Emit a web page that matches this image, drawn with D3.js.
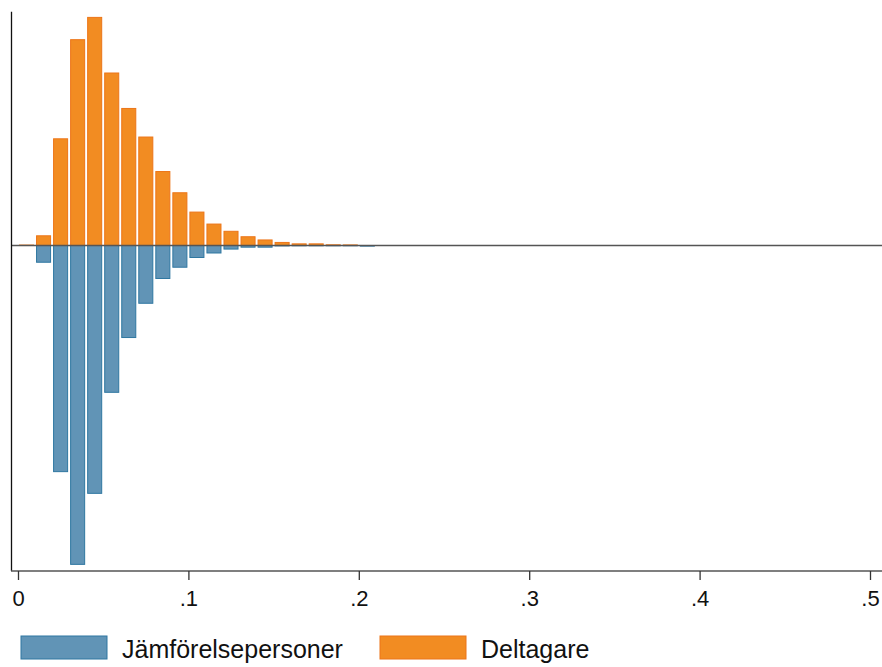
<!DOCTYPE html>
<html lang="sv">
<head>
    <meta charset="UTF-8">
    <title>Jämförelsepersoner och deltagare</title>
    <script src="https://d3js.org/d3.v7.min.js"></script>
    <style>
        body { margin: 0; background: #fff; }
        text { font-family: "Liberation Sans", Arial, sans-serif; fill: #111; }
    </style>
</head>
<body>
<div id="chart"></div>
<script>

    // bin starts (width 0.01) and share per bin, in percent
    var binStarts = [0, .01, .02, .03, .04, .05, .06, .07, .08, .09, .10,
        .11, .12, .13, .14, .15, .16, .17, .18, .19, .20];
    var deltagare = [0.04, 0.82, 9.00, 17.36, 19.24, 14.55, 11.56, 9.15, 6.24, 4.45, 2.82,
        1.81, 1.20, 0.74, 0.47, 0.26, 0.14, 0.14, 0.06, 0.05, 0];
    var jamforelse = [0, 1.41, 19.07, 26.89, 20.90, 12.38, 7.76, 4.87, 2.78, 1.83, 1.01,
        0.63, 0.30, 0.14, 0.14, 0.03, 0.02, 0.02, 0.02, 0.02, 0.05];
    var binWidth = 0.01;
    var xTicks = [0, .1, .2, .3, .4, .5];
    var xTickLabels = ["0", ".1", ".2", ".3", ".4", ".5"];
    var seriesNames = ["Jämförelsepersoner", "Deltagare"];

    var W = 882, H = 667;
    var blueFill = "#6194b6", blueLine = "#2f77a1";
    var orangeFill = "#f28c22", orangeLine = "#ec7518";

    var svg = d3.select("#chart")
        .append("svg")
        .attr("width", W)
        .attr("height", H);

    var x = d3.scaleLinear()
        .domain([0, 0.5])
        .range([18, 870]);

    var y = d3.scaleLinear()
        .domain([-27.45, 19.72])
        .range([571, 11.7]);

    var bw = x(binWidth) - x(0);

    // comparison group, drawn below zero
    svg.append("g")
        .selectAll("rect")
        .data(binStarts)
        .enter().append("rect")
        .attr("x", function (d) { return x(d) + 1.5; })
        .attr("width", bw - 3)
        .attr("y", y(0))
        .attr("height", function (d, i) { return y(0) - y(jamforelse[i]) ; })
        .attr("fill", blueFill)
        .attr("stroke", blueLine)
        .attr("stroke-width", 1);

    // participants, drawn above zero
    svg.append("g")
        .selectAll("rect")
        .data(binStarts)
        .enter().append("rect")
        .attr("x", function (d) { return x(d) + 1.5; })
        .attr("width", bw - 3)
        .attr("y", function (d, i) { return y(deltagare[i]); })
        .attr("height", function (d, i) { return y(0) - y(deltagare[i]); })
        .attr("fill", orangeFill)
        .attr("stroke", orangeLine)
        .attr("stroke-width", 1);

    // zero line
    svg.append("line")
        .attr("x1", 11).attr("x2", W)
        .attr("y1", y(0)).attr("y2", y(0))
        .attr("stroke", "#555")
        .attr("stroke-width", 1.3);

    // left axis (no ticks)
    svg.append("line")
        .attr("x1", 11.5).attr("x2", 11.5)
        .attr("y1", 11.7).attr("y2", 571)
        .attr("stroke", "#111")
        .attr("stroke-width", 1.3);

    // bottom axis
    var xAxis = svg.append("g")
        .attr("transform", "translate(0,571)")
        .call(d3.axisBottom(x)
            .tickValues(xTicks)
            .tickFormat(function (d, i) { return xTickLabels[i]; })
            .tickSize(9)
            .tickPadding(10));
    xAxis.select(".domain")
        .attr("d", "M11,0H" + W)
        .attr("stroke", "#555")
        .attr("stroke-width", 1.3);
    xAxis.selectAll(".tick line")
        .attr("stroke", "#333")
        .attr("stroke-width", 1.3);
    xAxis.selectAll(".tick text")
        .style("font-family", "'Liberation Sans', Arial, sans-serif")
        .style("font-size", "22px")
        .attr("fill", "#111");

    // legend
    var legend = svg.append("g");
    var legendItems = [
        {name: seriesNames[0], fill: blueFill, line: blueLine, x: 21},
        {name: seriesNames[1], fill: orangeFill, line: orangeLine, x: 380}
    ];
    legendItems.forEach(function (d) {
        legend.append("rect")
            .attr("x", d.x).attr("y", 636)
            .attr("width", 86).attr("height", 23)
            .attr("fill", d.fill)
            .attr("stroke", d.line)
            .attr("stroke-width", 1);
        legend.append("text")
            .attr("x", d.x + 101).attr("y", 658)
            .style("font-size", "25px")
            .text(d.name);
    });

</script>
</body>
</html>
